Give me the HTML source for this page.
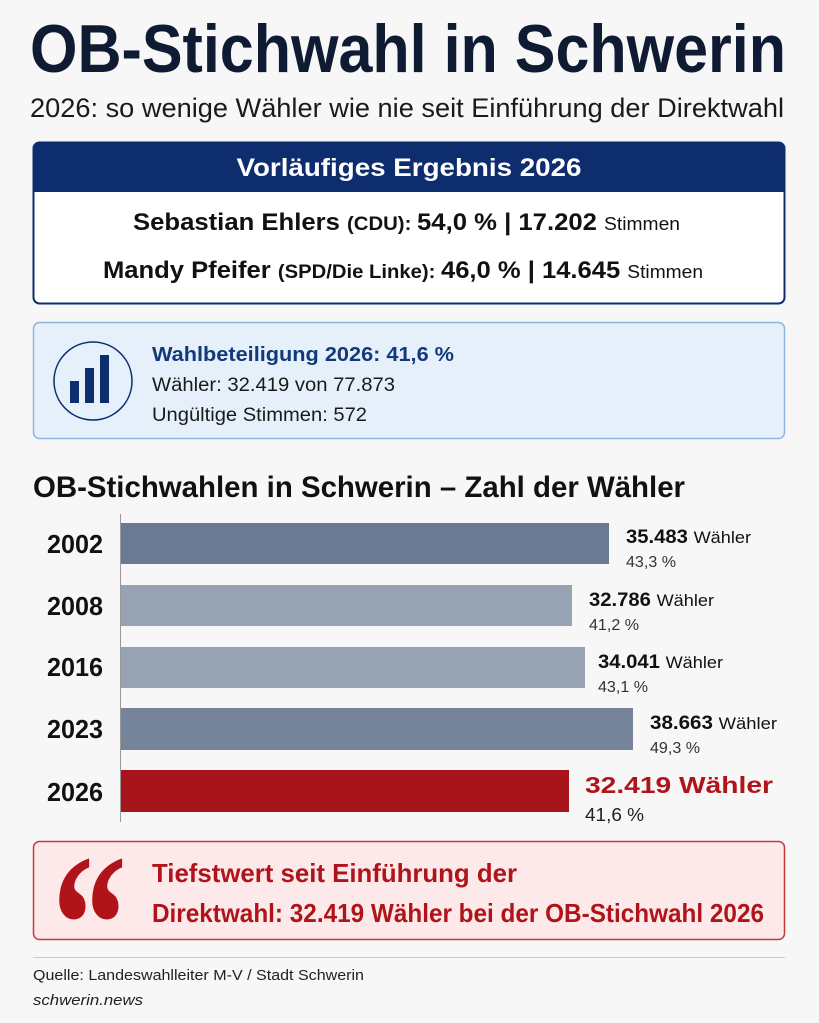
<!DOCTYPE html>
<html><head><meta charset="utf-8"><style>
html,body{margin:0;padding:0;background:#f7f7f7;}
svg{display:block;font-family:"Liberation Sans",sans-serif;}
</style></head><body>
<svg width="819" height="1023" viewBox="0 0 819 1023" xmlns="http://www.w3.org/2000/svg">
<rect width="819" height="1023" fill="#f7f7f7"/>
<text x="30" y="72" font-size="68" font-weight="bold" fill="#0f1a33" textLength="756" lengthAdjust="spacingAndGlyphs">OB-Stichwahl in Schwerin</text>
<text x="30" y="117" font-size="27" fill="#1a1a1a" textLength="754" lengthAdjust="spacingAndGlyphs">2026: so wenige Wähler wie nie seit Einführung der Direktwahl</text>

<rect x="33.5" y="142.5" width="751" height="161" rx="6" fill="#fff" stroke="#0e2d6e" stroke-width="2"/>
<path d="M33.5 192 V148.5 a6 6 0 0 1 6 -6 H778.5 a6 6 0 0 1 6 6 V192 Z" fill="#0e2d6e"/>
<text x="409" y="176" font-size="25" font-weight="bold" fill="#fff" text-anchor="middle" textLength="345" lengthAdjust="spacingAndGlyphs">Vorläufiges Ergebnis 2026</text>
<text x="133" y="230" fill="#111" textLength="547" lengthAdjust="spacingAndGlyphs"><tspan font-size="24" font-weight="bold">Sebastian Ehlers </tspan><tspan font-size="19" font-weight="bold">(CDU): </tspan><tspan font-size="24" font-weight="bold"> 54,0 % | 17.202 </tspan><tspan font-size="18">Stimmen</tspan></text>
<text x="103" y="278" fill="#111" textLength="600" lengthAdjust="spacingAndGlyphs"><tspan font-size="24" font-weight="bold">Mandy Pfeifer </tspan><tspan font-size="19" font-weight="bold">(SPD/Die Linke): </tspan><tspan font-size="24" font-weight="bold"> 46,0 % | 14.645 </tspan><tspan font-size="18">Stimmen</tspan></text>

<rect x="33.5" y="322.5" width="751" height="116" rx="6" fill="#e6f0fb" stroke="#8fb4e0" stroke-width="1.5"/>
<circle cx="93" cy="381" r="39" fill="#e6f0fb" stroke="#0e2d6e" stroke-width="1.5"/>
<rect x="70" y="381" width="9" height="22" fill="#0e2d6e"/>
<rect x="85" y="368" width="9" height="35" fill="#0e2d6e"/>
<rect x="100" y="355" width="9" height="48" fill="#0e2d6e"/>
<text x="152" y="361" font-size="20" font-weight="bold" fill="#123a7a" textLength="302" lengthAdjust="spacingAndGlyphs">Wahlbeteiligung 2026: 41,6 %</text>
<text x="152" y="391" font-size="19" fill="#1a1a1a" textLength="243" lengthAdjust="spacingAndGlyphs">Wähler: 32.419 von 77.873</text>
<text x="152" y="421" font-size="19" fill="#1a1a1a" textLength="215" lengthAdjust="spacingAndGlyphs">Ungültige Stimmen: 572</text>

<text x="33" y="497" font-size="30" font-weight="bold" fill="#111" textLength="652" lengthAdjust="spacingAndGlyphs">OB-Stichwahlen in Schwerin – Zahl der Wähler</text>
<line x1="120.5" y1="514" x2="120.5" y2="822" stroke="#999" stroke-width="1"/>

<rect x="121" y="523" width="488" height="41" fill="#6b7a92"/>
<rect x="121" y="585" width="451" height="41" fill="#97a2b2"/>
<rect x="121" y="647" width="464" height="41" fill="#97a2b2"/>
<rect x="121" y="708" width="512" height="42" fill="#75849b"/>
<rect x="121" y="770" width="448" height="42" fill="#a8141b"/>

<g font-size="26" font-weight="bold" fill="#111">
<text x="47" y="553" textLength="56" lengthAdjust="spacingAndGlyphs">2002</text>
<text x="47" y="615" textLength="56" lengthAdjust="spacingAndGlyphs">2008</text>
<text x="47" y="676" textLength="56" lengthAdjust="spacingAndGlyphs">2016</text>
<text x="47" y="738" textLength="56" lengthAdjust="spacingAndGlyphs">2023</text>
<text x="47" y="801" textLength="56" lengthAdjust="spacingAndGlyphs">2026</text>
</g>
<g fill="#111">
<text x="626" y="543" textLength="125" lengthAdjust="spacingAndGlyphs"><tspan font-size="19" font-weight="bold">35.483 </tspan><tspan font-size="17">Wähler</tspan></text>
<text x="626" y="567" font-size="16" fill="#333" textLength="50" lengthAdjust="spacingAndGlyphs">43,3 %</text>
<text x="589" y="606" textLength="125" lengthAdjust="spacingAndGlyphs"><tspan font-size="19" font-weight="bold">32.786 </tspan><tspan font-size="17">Wähler</tspan></text>
<text x="589" y="630" font-size="16" fill="#333" textLength="50" lengthAdjust="spacingAndGlyphs">41,2 %</text>
<text x="598" y="668" textLength="125" lengthAdjust="spacingAndGlyphs"><tspan font-size="19" font-weight="bold">34.041 </tspan><tspan font-size="17">Wähler</tspan></text>
<text x="598" y="692" font-size="16" fill="#333" textLength="50" lengthAdjust="spacingAndGlyphs">43,1 %</text>
<text x="650" y="729" textLength="127" lengthAdjust="spacingAndGlyphs"><tspan font-size="19" font-weight="bold">38.663 </tspan><tspan font-size="17">Wähler</tspan></text>
<text x="650" y="753" font-size="16" fill="#333" textLength="50" lengthAdjust="spacingAndGlyphs">49,3 %</text>
<text x="585" y="793" font-size="23" font-weight="bold" fill="#b0141a" textLength="188" lengthAdjust="spacingAndGlyphs">32.419 Wähler</text>
<text x="585" y="821" font-size="18" fill="#222" textLength="59" lengthAdjust="spacingAndGlyphs">41,6 %</text>
</g>

<rect x="33.5" y="841.5" width="751" height="98" rx="6" fill="#fde9e9" stroke="#c73a3a" stroke-width="1.5"/>
<g transform="translate(55,858) scale(1,1.35)">
<text x="-3" y="100" font-family="Liberation Serif,serif" font-size="150" font-weight="bold" fill="#b0141a">“</text>
</g>
<g font-size="26" font-weight="bold" fill="#b0141a">
<text x="152" y="882" textLength="365" lengthAdjust="spacingAndGlyphs">Tiefstwert seit Einführung der</text>
<text x="152" y="922" textLength="612" lengthAdjust="spacingAndGlyphs">Direktwahl: 32.419 Wähler bei der OB-Stichwahl 2026</text>
</g>
<line x1="33" y1="957.5" x2="785" y2="957.5" stroke="#ccc" stroke-width="1"/>
<text x="33" y="980" font-size="15" fill="#222" textLength="331" lengthAdjust="spacingAndGlyphs">Quelle: Landeswahlleiter M-V / Stadt Schwerin</text>
<text x="33" y="1005" font-size="15" font-style="italic" fill="#222" textLength="110" lengthAdjust="spacingAndGlyphs">schwerin.news</text>
</svg>
</body></html>
